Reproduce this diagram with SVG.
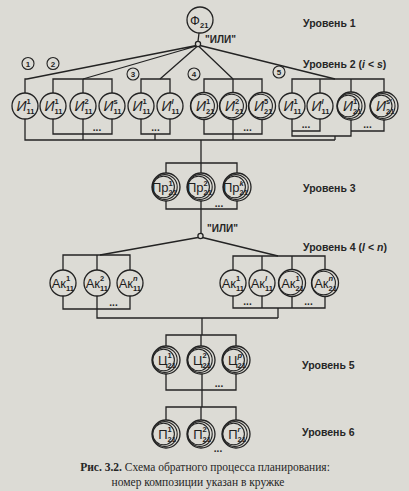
<svg xmlns="http://www.w3.org/2000/svg" width="409" height="491" viewBox="0 0 409 491">
<style>
.ln{fill:none;stroke:#232323;stroke-width:1.3}
.c{fill:#dcdbd5;stroke:#232323;stroke-width:1.3}
.ci{fill:none;stroke:#232323;stroke-width:1.1}
.m{font-family:"Liberation Sans",Arial,sans-serif;font-size:13px;fill:#1e1e1e;text-anchor:end}
.mi{font-style:italic;font-size:14px}
.s{font-family:"Liberation Sans",Arial,sans-serif;font-size:7.5px;fill:#1e1e1e;font-weight:bold}
.lv{font-family:"Liberation Sans",Arial,sans-serif;font-size:10.5px;font-weight:bold;fill:#262626}
.or{font-family:"Liberation Sans",Arial,sans-serif;font-size:10px;font-weight:bold;fill:#262626}
.n{font-family:"Liberation Sans",Arial,sans-serif;font-size:8px;font-weight:bold;fill:#262626;text-anchor:middle}
.cap{font-family:"Liberation Serif","Times New Roman",serif;font-size:11.5px;fill:#262626;text-anchor:middle}
.dots{font-family:"Liberation Sans",Arial,sans-serif;font-size:10px;font-weight:bold;fill:#262626;text-anchor:middle}
</style>
<rect x="0" y="0" width="409" height="491" fill="#dcdbd5"/>

<g id="connectors">
<!-- level 1 -->
<path class="ln" d="M199 33 L198 41.5"/>
<path class="ln" d="M196.5 45.5 L27 79 M196.5 46 L83 79 M197 46.5 L160 79 M199 46.5 L233 79 M200 45.5 L335 79"/>
<!-- level 2 top bars -->
<path class="ln" d="M27 79 L25 79 L25 93"/>
<path class="ln" d="M53 93 L53 79 L112 79 L112 93 M83 79 L83 93"/>
<path class="ln" d="M141 93 L141 79 L170 79 L170 93"/>
<path class="ln" d="M204 93 L204 79 L262 79 L262 93 M233 79 L233 93"/>
<path class="ln" d="M292 93 L292 79 L384 79 L384 93 M320 79 L320 93 M351 79 L351 93"/>
<!-- level 2 bottom -->
<path class="ln" d="M25 119 L25 140 L335 140"/>
<path class="ln" d="M53 119 L53 134 L112 134 L112 119 M83 119 L83 140"/>
<path class="ln" d="M141 119 L141 134 L170 134 L170 119 M155 134 L155 140"/>
<path class="ln" d="M204 119 L204 134 L262 134 L262 119 M233 119 L233 140"/>
<path class="ln" d="M292 119 L292 136 L351 136 L351 119 M320 119 L320 131 L292 131 M351 131 L384 131 L384 119 M335 136 L335 140"/>
<!-- level 3 -->
<path class="ln" d="M201 140 L201 163"/>
<path class="ln" d="M166 173 L166 163 L237 163 L237 173 M201 163 L201 173"/>
<path class="ln" d="M166 201 L166 209 L237 209 L237 201 M201 201 L201 233.5"/>
<!-- level 4 -->
<path class="ln" d="M198 237.5 L100 255 M202.5 237.5 L278 256"/>
<path class="ln" d="M63 270 L63 255 L130 255 L130 270 M97 255 L97 270"/>
<path class="ln" d="M63 296 L63 309 L130 309 L130 296 M97 296 L97 318 L278 318"/>
<path class="ln" d="M233 270 L233 256 L325 256 L325 270 M262 256 L262 270 M292 256 L292 270"/>
<path class="ln" d="M233 296 L233 308 L325 308 L325 296 M262 296 L262 308 M292 296 L292 308 M278 308 L278 318"/>
<!-- level 5 -->
<path class="ln" d="M202 318 L202 335"/>
<path class="ln" d="M166 346 L166 335 L236 335 L236 346 M201 335 L201 346"/>
<path class="ln" d="M166 374 L166 390 L236 390 L236 374 M202 374 L202 407"/>
<!-- level 6 -->
<path class="ln" d="M166 420 L166 407 L236 407 L236 420 M201 407 L201 420"/>
</g>

<g id="or1"><circle class="c" cx="198" cy="44" r="2.6"/><text class="or" x="205" y="43">"ИЛИ"</text></g>
<g id="or2"><circle class="c" cx="200.5" cy="236" r="2.6"/><text class="or" x="207" y="232">"ИЛИ"</text></g>

<g id="phi21"><circle class="c" cx="200" cy="20" r="13"/><text class="m" x="200" y="25" font-size="14">Ф</text><text class="s" x="200" y="27.5">21</text></g>

<!-- group numbers -->
<g id="num1"><circle class="ci" cx="28" cy="63.5" r="6"/><text class="n" x="28" y="66.5">1</text></g>
<g id="num2"><circle class="ci" cx="53" cy="63.5" r="6"/><text class="n" x="53" y="66.5">2</text></g>
<g id="num3"><circle class="ci" cx="133" cy="74" r="6"/><text class="n" x="133" y="77">3</text></g>
<g id="num4"><circle class="ci" cx="194" cy="74" r="6"/><text class="n" x="194" y="77">4</text></g>
<g id="num5"><circle class="ci" cx="279" cy="72" r="6"/><text class="n" x="279" y="75">5</text></g>

<!-- level 2 nodes -->
<g id="i1"><circle class="c" cx="25" cy="106" r="13"/><text class="m mi" x="26.5" y="111">И</text><text class="s" x="26.5" y="104">1</text><text class="s" x="26.5" y="114">11</text></g>
<g id="i2"><circle class="c" cx="53" cy="106" r="13"/><text class="m mi" x="54.5" y="111">И</text><text class="s" x="54.5" y="104">1</text><text class="s" x="54.5" y="114">11</text></g>
<g id="i3"><circle class="c" cx="83" cy="106" r="13"/><text class="m mi" x="84.5" y="111">И</text><text class="s" x="84.5" y="104">2</text><text class="s" x="84.5" y="114">11</text></g>
<g id="i4"><circle class="c" cx="112" cy="106" r="13"/><text class="m mi" x="113.5" y="111">И</text><text class="s" x="113.5" y="104">s</text><text class="s" x="113.5" y="114">11</text></g>
<g id="i5"><circle class="c" cx="141" cy="106" r="13"/><text class="m mi" x="142.5" y="111">И</text><text class="s" x="142.5" y="104">1</text><text class="s" x="142.5" y="114">11</text></g>
<g id="i6"><circle class="c" cx="170" cy="106" r="13"/><text class="m mi" x="171.5" y="111">И</text><text class="s" x="171.5" y="104" font-style="italic">l</text><text class="s" x="171.5" y="114">11</text></g>
<g id="i7"><circle class="c" cx="204" cy="106" r="13.5"/><circle class="ci" cx="202.6" cy="106" r="11.8"/><text class="m mi" x="206" y="111">И</text><text class="s" x="206" y="104">1</text><text class="s" x="206" y="114">21</text></g>
<g id="i8"><circle class="c" cx="233" cy="106" r="13.5"/><circle class="ci" cx="231.6" cy="106" r="11.8"/><text class="m mi" x="235" y="111">И</text><text class="s" x="235" y="104">2</text><text class="s" x="235" y="114">21</text></g>
<g id="i9"><circle class="c" cx="262" cy="106" r="13.5"/><circle class="ci" cx="260.6" cy="106" r="11.8"/><text class="m mi" x="264" y="111">И</text><text class="s" x="264" y="104">5</text><text class="s" x="264" y="114">21</text></g>
<g id="i10"><circle class="c" cx="292" cy="106" r="13"/><text class="m mi" x="293.5" y="111">И</text><text class="s" x="293.5" y="104">1</text><text class="s" x="293.5" y="114">11</text></g>
<g id="i11"><circle class="c" cx="320" cy="106" r="13"/><text class="m mi" x="321.5" y="111">И</text><text class="s" x="321.5" y="104" font-style="italic">l</text><text class="s" x="321.5" y="114">11</text></g>
<g id="i12"><circle class="c" cx="351" cy="106" r="14"/><circle class="ci" cx="349.6" cy="106" r="12.4"/><circle class="ci" cx="348.2" cy="106" r="10.8"/><text class="m mi" x="353" y="111">И</text><text class="s" x="353" y="104">1</text><text class="s" x="353" y="114">21</text></g>
<g id="i13"><circle class="c" cx="384" cy="106" r="14"/><circle class="ci" cx="382.6" cy="106" r="12.4"/><circle class="ci" cx="381.2" cy="106" r="10.8"/><text class="m mi" x="386" y="111">И</text><text class="s" x="386" y="104">s'</text><text class="s" x="386" y="114">21</text></g>
<text class="dots" x="97" y="131">...</text>
<text class="dots" x="155.5" y="131">...</text>
<text class="dots" x="247.5" y="131">...</text>
<text class="dots" x="306" y="128">...</text>
<text class="dots" x="367.5" y="128">...</text>

<!-- level 3 -->
<g id="pr1"><circle class="c" cx="166" cy="187" r="14"/><circle class="ci" cx="164.8" cy="187" r="12.4"/><circle class="ci" cx="163.6" cy="187" r="10.8"/><text class="m" x="168.5" y="191.5" font-size="11">Пр</text><text class="s" x="168.5" y="185.5">1</text><text class="s" x="168.5" y="195">21</text></g>
<g id="pr2"><circle class="c" cx="201" cy="187" r="14"/><circle class="ci" cx="199.8" cy="187" r="12.4"/><circle class="ci" cx="198.6" cy="187" r="10.8"/><text class="m" x="203.5" y="191.5" font-size="11">Пр</text><text class="s" x="203.5" y="185.5">2</text><text class="s" x="203.5" y="195">21</text></g>
<g id="pr3"><circle class="c" cx="237" cy="187" r="14"/><circle class="ci" cx="235.8" cy="187" r="12.4"/><circle class="ci" cx="234.6" cy="187" r="10.8"/><text class="m" x="239.5" y="191.5" font-size="11">Пр</text><text class="s" x="239.5" y="185.5" font-style="italic">k</text><text class="s" x="239.5" y="195">21</text></g>
<text class="dots" x="219" y="207">...</text>

<!-- level 4 -->
<g id="ak1"><circle class="c" cx="63" cy="283" r="13"/><text class="m" x="66" y="287.5" font-size="11.5">Ак</text><text class="s" x="66" y="281">1</text><text class="s" x="66" y="291">11</text></g>
<g id="ak2"><circle class="c" cx="97" cy="283" r="13"/><text class="m" x="100" y="287.5" font-size="11.5">Ак</text><text class="s" x="100" y="281">2</text><text class="s" x="100" y="291">11</text></g>
<g id="ak3"><circle class="c" cx="130" cy="283" r="13"/><text class="m" x="133" y="287.5" font-size="11.5">Ак</text><text class="s" x="133" y="281" font-style="italic">n</text><text class="s" x="133" y="291">11</text></g>
<g id="ak4"><circle class="c" cx="233" cy="283" r="13"/><text class="m" x="236" y="287.5" font-size="11.5">Ак</text><text class="s" x="236" y="281">1</text><text class="s" x="236" y="291">11</text></g>
<g id="ak5"><circle class="c" cx="262" cy="283" r="13"/><text class="m" x="265" y="287.5" font-size="11.5">Ак</text><text class="s" x="265" y="281" font-style="italic">l</text><text class="s" x="265" y="291">11</text></g>
<g id="ak6"><circle class="c" cx="292" cy="283" r="13.5"/><circle class="ci" cx="290.6" cy="283" r="11.8"/><text class="m" x="295.5" y="287.5" font-size="11">Ак</text><text class="s" x="295.5" y="281">1</text><text class="s" x="295.5" y="291">21</text></g>
<g id="ak7"><circle class="c" cx="325" cy="283" r="13.5"/><circle class="ci" cx="323.6" cy="283" r="11.8"/><text class="m" x="328.5" y="287.5" font-size="11">Ак</text><text class="s" x="328.5" y="281" font-style="italic">n</text><text class="s" x="328.5" y="291">21</text></g>
<text class="dots" x="113.5" y="306">...</text>
<text class="dots" x="247.5" y="305">...</text>
<text class="dots" x="308.5" y="305">...</text>

<!-- level 5 -->
<g id="c1"><circle class="c" cx="166" cy="360" r="14"/><circle class="ci" cx="164.8" cy="360" r="12.4"/><circle class="ci" cx="163.6" cy="360" r="10.8"/><text class="m" x="167.5" y="365" font-size="13">Ц</text><text class="s" x="167.5" y="358">1</text><text class="s" x="167.5" y="368">21</text></g>
<g id="c2"><circle class="c" cx="201" cy="360" r="14"/><circle class="ci" cx="199.8" cy="360" r="12.4"/><circle class="ci" cx="198.6" cy="360" r="10.8"/><text class="m" x="202.5" y="365" font-size="13">Ц</text><text class="s" x="202.5" y="358">2</text><text class="s" x="202.5" y="368">21</text></g>
<g id="c3"><circle class="c" cx="236" cy="360" r="14"/><circle class="ci" cx="234.8" cy="360" r="12.4"/><circle class="ci" cx="233.6" cy="360" r="10.8"/><text class="m" x="237.5" y="365" font-size="13">Ц</text><text class="s" x="237.5" y="358" font-style="italic">p</text><text class="s" x="237.5" y="368">21</text></g>
<text class="dots" x="219" y="387">...</text>

<!-- level 6 -->
<g id="p1"><circle class="c" cx="166" cy="434" r="14"/><circle class="ci" cx="164.8" cy="434" r="12.4"/><circle class="ci" cx="163.6" cy="434" r="10.8"/><text class="m" x="167.5" y="439" font-size="13">П</text><text class="s" x="167.5" y="432">1</text><text class="s" x="167.5" y="442">21</text></g>
<g id="p2"><circle class="c" cx="201" cy="434" r="14"/><circle class="ci" cx="199.8" cy="434" r="12.4"/><circle class="ci" cx="198.6" cy="434" r="10.8"/><text class="m" x="202.5" y="439" font-size="13">П</text><text class="s" x="202.5" y="432">2</text><text class="s" x="202.5" y="442">21</text></g>
<g id="p3"><circle class="c" cx="236" cy="434" r="14"/><circle class="ci" cx="234.8" cy="434" r="12.4"/><circle class="ci" cx="233.6" cy="434" r="10.8"/><text class="m" x="237.5" y="439" font-size="13">П</text><text class="s" x="237.5" y="432" font-style="italic">r</text><text class="s" x="237.5" y="442">21</text></g>
<text class="dots" x="218" y="452">...</text>

<!-- level labels -->
<text class="lv" x="303" y="27">Уровень 1</text>
<text class="lv" x="303" y="68">Уровень 2 (<tspan font-style="italic">i</tspan> &lt; <tspan font-style="italic">s</tspan>)</text>
<text class="lv" x="303" y="192">Уровень 3</text>
<text class="lv" x="303" y="251">Уровень 4 (<tspan font-style="italic">l</tspan> &lt; <tspan font-style="italic">n</tspan>)</text>
<text class="lv" x="302" y="369">Уровень 5</text>
<text class="lv" x="302" y="436">Уровень 6</text>

<!-- caption -->
<text class="cap" x="205" y="471"><tspan font-weight="bold">Рис. 3.2.</tspan> Схема обратного процесса планирования:</text>
<text class="cap" x="198" y="486">номер композиции указан в кружке</text>
</svg>
